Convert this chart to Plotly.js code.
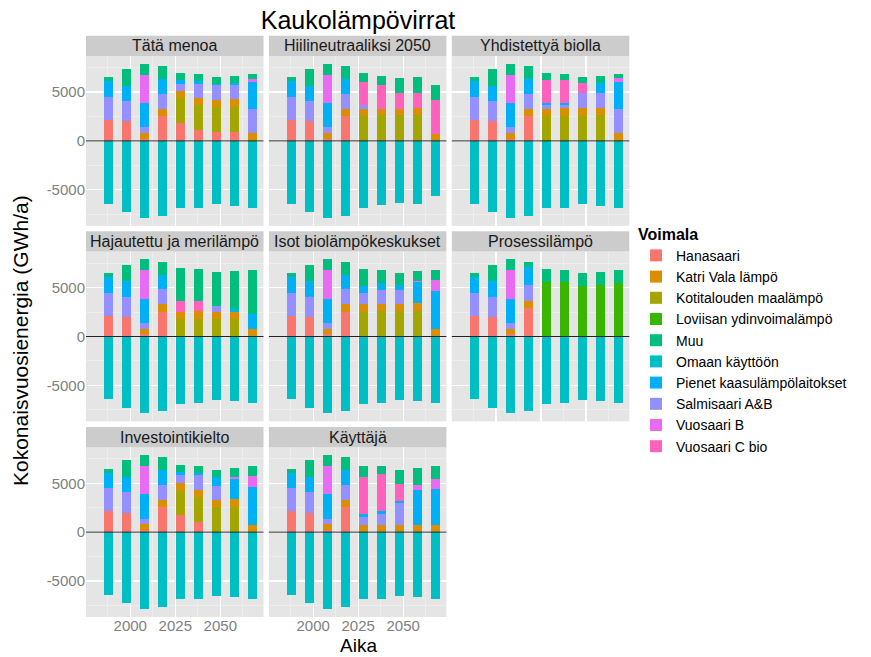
<!DOCTYPE html>
<html><head><meta charset="utf-8">
<script src="https://cdn.plot.ly/plotly-3.0.1.min.js"></script>
<style>html,body{margin:0;padding:0;background:#fff}#chart{width:871px;height:657px}</style>
</head><body><div id="chart"></div>
<script>
// ---- DATA ----
const years = [1988, 1998, 2008, 2018, 2028, 2038, 2048, 2058, 2068];
const scenarios = ["Tätä menoa", "Hiilineutraaliksi 2050", "Yhdistettyä biolla",
  "Hajautettu ja merilämpö", "Isot biolämpökeskukset", "Prosessilämpö",
  "Investointikielto", "Käyttäjä"];
const xTickVals = [2000, 2025, 2050];
const xTickText = ["2000", "2025", "2050"];
const yTickVals = [-5000, 0, 5000];
const yTickText = ["-5000", "0", "5000"];

// each series: one row of 9 yearly values per scenario (GWh/a)
const hanasaari = [
  [2130, 1994, 237, 2535, 1791, 1082, 879, 913, 0],
  [2130, 1994, 237, 2535, 0, 0, 0, 0, 0],
  [2130, 1994, 237, 2535, 0, 0, 0, 0, 0],
  [2130, 1994, 237, 2535, 0, 0, 0, 0, 0],
  [2130, 1994, 237, 2535, 0, 0, 0, 0, 0],
  [2130, 1994, 237, 2881, 0, 0, 0, 0, 0],
  [2130, 1994, 237, 2535, 1709, 1005, 0, 0, 0],
  [2130, 1994, 237, 2535, 0, 0, 0, 0, 0]
];
const kotitalous = [
  [0, 0, 0, 0, 2569, 2568, 2602, 2602, 0],
  [0, 0, 0, 0, 2535, 2603, 2603, 2636, 0],
  [0, 0, 0, 0, 2535, 2569, 2569, 2603, 0],
  [0, 0, 0, 0, 1776, 1776, 1776, 1776, 0],
  [0, 0, 0, 0, 2546, 2580, 2580, 2613, 0],
  [0, 0, 0, 0, 0, 0, 0, 0, 0],
  [0, 0, 0, 0, 2546, 2546, 2546, 2546, 0],
  [0, 0, 0, 0, 0, 0, 0, 0, 0]
];
const katriVala = [
  [0, 0, 574, 777, 744, 744, 744, 778, 777],
  [0, 0, 574, 777, 777, 709, 709, 778, 744],
  [0, 0, 574, 777, 777, 777, 777, 777, 777],
  [0, 0, 574, 777, 770, 804, 737, 770, 804],
  [0, 0, 574, 777, 737, 770, 770, 771, 737],
  [0, 0, 574, 737, 0, 0, 0, 0, 0],
  [0, 0, 574, 777, 770, 770, 771, 804, 737],
  [0, 0, 574, 777, 737, 737, 737, 737, 737]
];
const loviisa = [
  [0, 0, 0, 0, 0, 0, 0, 0, 0],
  [0, 0, 0, 0, 0, 0, 0, 0, 0],
  [0, 0, 0, 0, 0, 0, 0, 0, 0],
  [0, 0, 0, 0, 0, 0, 0, 0, 0],
  [0, 0, 0, 0, 0, 0, 0, 0, 0],
  [0, 0, 0, 0, 5561, 5561, 5193, 5293, 5427],
  [0, 0, 0, 0, 0, 0, 0, 0, 0],
  [0, 0, 0, 0, 0, 0, 0, 0, 0]
];
const salmisaari = [
  [2365, 2096, 575, 1521, 743, 1453, 1453, 1453, 2468],
  [2365, 2096, 575, 1521, 338, 0, 0, 0, 0],
  [2365, 2096, 575, 1521, 338, 304, 1521, 1521, 2468],
  [2365, 2096, 575, 1521, 0, 0, 603, 0, 0],
  [2365, 2096, 575, 1521, 1206, 1441, 1407, 0, 0],
  [2365, 2096, 575, 1675, 0, 0, 0, 0, 0],
  [2365, 2096, 575, 1521, 771, 1474, 1373, 0, 0],
  [2365, 2096, 575, 1521, 804, 1139, 2245, 0, 0]
];
const pienet = [
  [1590, 1555, 2467, 1488, 372, 305, 169, 203, 2738],
  [1590, 1555, 2467, 1488, 0, 0, 0, 0, 0],
  [1590, 1555, 2467, 1488, 203, 203, 0, 1014, 2738],
  [1590, 1555, 2467, 1488, 0, 0, 0, 268, 1474],
  [1590, 1555, 2467, 1488, 704, 636, 503, 2177, 3953],
  [1590, 1555, 2467, 1776, 0, 0, 0, 0, 0],
  [1590, 1555, 2467, 1488, 335, 268, 938, 2111, 3886],
  [1590, 1555, 2467, 1488, 335, 335, 201, 3585, 3685]
];
const vuosaariB = [
  [0, 0, 2941, 0, 0, 0, 0, 0, 371],
  [0, 0, 2941, 0, 0, 0, 0, 0, 0],
  [0, 0, 2941, 0, 0, 0, 0, 0, 439],
  [0, 0, 2941, 0, 0, 0, 0, 0, 0],
  [0, 0, 2941, 0, 0, 0, 0, 70, 1072],
  [0, 0, 2941, 0, 0, 0, 0, 0, 0],
  [0, 0, 2941, 0, 0, 0, 0, 134, 1106],
  [0, 0, 2941, 0, 0, 0, 0, 536, 1039]
];
const vuosaariC = [
  [0, 0, 0, 0, 0, 0, 0, 0, 0],
  [0, 0, 0, 0, 2333, 2400, 1555, 1521, 3413],
  [0, 0, 0, 0, 2400, 2332, 1014, 0, 0],
  [0, 0, 0, 0, 1039, 1038, 0, 0, 0],
  [0, 0, 0, 0, 0, 0, 0, 0, 0],
  [0, 0, 0, 0, 0, 0, 0, 0, 0],
  [0, 0, 0, 0, 0, 0, 0, 0, 0],
  [0, 0, 0, 0, 3719, 3752, 1775, 0, 0]
];
const muu = [
  [405, 1690, 1115, 1352, 710, 709, 676, 710, 474],
  [405, 1690, 1115, 1352, 946, 913, 1521, 1555, 1555],
  [405, 1690, 1115, 1352, 710, 710, 642, 744, 406],
  [405, 1690, 1115, 1352, 3383, 3283, 3450, 3886, 4556],
  [405, 1690, 1115, 1352, 1675, 1407, 1239, 1072, 1039],
  [405, 1690, 1115, 536, 1340, 1273, 1306, 1340, 1374],
  [405, 1690, 1115, 1352, 737, 703, 771, 971, 1005],
  [405, 1690, 1115, 1352, 1206, 838, 1441, 1675, 1273]
];
const omaan = [
  [-6420, -7300, -7842, -7639, -6895, -6828, -6490, -6625, -6828],
  [-6420, -7300, -7842, -7639, -6895, -6591, -6354, -6490, -5645],
  [-6420, -7300, -7842, -7639, -6895, -6828, -6490, -6625, -6828],
  [-6420, -7300, -7842, -7639, -6895, -6828, -6490, -6625, -6828],
  [-6420, -7300, -7842, -7639, -6895, -6828, -6490, -6625, -6828],
  [-6420, -7300, -7842, -7639, -6895, -6828, -6490, -6625, -6828],
  [-6420, -7300, -7842, -7639, -6895, -6828, -6490, -6625, -6828],
  [-6420, -7300, -7842, -7639, -6895, -6828, -6490, -6625, -6828]
];

// stacking order bottom-up; legend rank = alphabetical order
const series = [
  {name: "Hanasaari", vals: hanasaari, color: "#F8766D", rank: 1},
  {name: "Kotitalouden maalämpö", vals: kotitalous, color: "#A3A500", rank: 3},
  {name: "Katri Vala lämpö", vals: katriVala, color: "#D89000", rank: 2},
  {name: "Loviisan ydinvoimalämpö", vals: loviisa, color: "#39B600", rank: 4},
  {name: "Salmisaari A&B", vals: salmisaari, color: "#9590FF", rank: 8},
  {name: "Pienet kaasulämpölaitokset", vals: pienet, color: "#00B0F6", rank: 7},
  {name: "Vuosaari B", vals: vuosaariB, color: "#E76BF3", rank: 9},
  {name: "Vuosaari C bio", vals: vuosaariC, color: "#FF62BC", rank: 10},
  {name: "Muu", vals: muu, color: "#00BF7D", rank: 5},
  {name: "Omaan käyttöön", vals: omaan, color: "#00BFC4", rank: 6}
];

// ---- LAYOUT GEOMETRY (pixels) ----
const W = 871, H = 657;
const colLeft = [86, 268.9, 451.8];
const colW = 177.5;
const rowTop = [35.7, 231.3, 426.9];
const stripH = 20.3;
const panelH = 169.8;
const FONT = "Liberation Sans, Arial, sans-serif";

const traces = [];
const layout = {
  width: W, height: H,
  margin: {l: 0, r: 0, t: 0, b: 0},
  paper_bgcolor: "#FFFFFF",
  plot_bgcolor: "#E5E5E5",
  barmode: "relative",
  bargap: 0,
  font: {family: FONT, size: 15, color: "#1A1A1A"},
  showlegend: true,
  title: {text: "Kaukolämpövirrat", x: 358 / W, xanchor: "center", y: 1 - 20 / H, yanchor: "middle",
          font: {size: 25, color: "#000000", family: FONT}},
  legend: {
    x: 636 / W, xanchor: "left", y: 1 - 219 / H, yanchor: "top",
    bgcolor: "rgba(0,0,0,0)", borderwidth: 0,
    font: {size: 14, color: "#000000", family: FONT},
    title: {text: "<b>Voimala</b>", font: {size: 16, color: "#000000", family: FONT}},
    tracegroupgap: 0, traceorder: "normal"
  },
  shapes: [], annotations: []
};

scenarios.forEach((scen, i) => {
  const r = Math.floor(i / 3), c = i % 3;
  const k = i === 0 ? "" : String(i + 1);
  const x0 = colLeft[c], x1 = colLeft[c] + colW;
  const pTop = rowTop[r] + stripH, pBot = pTop + panelH;
  const isBottom = (i === 6 || i === 7);
  const isLeft = (c === 0);
  layout["xaxis" + k] = {
    domain: [x0 / W, x1 / W], anchor: "y" + k,
    range: [1975.4, 2074], showline: false, zeroline: false,
    tickvals: xTickVals, ticktext: xTickText, showticklabels: isBottom,
    ticks: "", ticklabelstandoff: -2, gridcolor: "#FFFFFF", gridwidth: 1.2,
    tickfont: {size: 15, color: "#7F7F7F", family: FONT},
    minor: {tickvals: [1987.5, 2012.5, 2037.5, 2062.5], showgrid: true, gridcolor: "#F2F2F2", gridwidth: 0.6},
    fixedrange: true
  };
  layout["yaxis" + k] = {
    domain: [1 - pBot / H, 1 - pTop / H], anchor: "x" + k,
    range: [-8690, 8690], showline: false, zeroline: false,
    tickvals: yTickVals, ticktext: yTickText, showticklabels: isLeft,
    ticks: "", gridcolor: "#FFFFFF", gridwidth: 1.2,
    tickfont: {size: 15, color: "#7F7F7F", family: FONT},
    minor: {tickvals: [-7500, -2500, 2500, 7500], showgrid: true, gridcolor: "#F2F2F2", gridwidth: 0.6},
    fixedrange: true
  };
  // strip
  layout.shapes.push({type: "rect", xref: "paper", yref: "paper",
    x0: x0 / W, x1: x1 / W, y0: 1 - pTop / H, y1: 1 - rowTop[r] / H,
    fillcolor: "#CCCCCC", line: {width: 0}, layer: "below"});
  layout.annotations.push({text: scen, xref: "paper", yref: "paper",
    x: (x0 + x1) / 2 / W, y: 1 - (rowTop[r] + stripH / 2) / H, xanchor: "center", yanchor: "middle",
    showarrow: false, font: {size: 16, color: "#1A1A1A", family: FONT}});
  // zero line
  layout.shapes.push({type: "line", xref: "x" + k + " domain", yref: "y" + k,
    x0: 0, x1: 1, y0: 0, y1: 0, line: {color: "#222222", width: 1}, layer: "above"});

  series.forEach(s => {
    traces.push({
      type: "bar", x: years, y: s.vals[i], width: 5.2,
      name: s.name, legendgroup: s.name, legendrank: s.rank,
      showlegend: i === 0,
      marker: {color: s.color, line: {width: 0}},
      xaxis: "x" + k, yaxis: "y" + k,
      hovertemplate: s.name + ": %{y}<extra></extra>"
    });
  });
});

layout.annotations.push({text: "Kokonaisvuosienergia (GWh/a)", xref: "paper", yref: "paper",
  x: 20 / W, y: 1 - 341 / H, xanchor: "center", yanchor: "middle", textangle: -90,
  showarrow: false, font: {size: 21, color: "#000000", family: FONT}});
layout.annotations.push({text: "Aika", xref: "paper", yref: "paper",
  x: 358 / W, y: 0, xanchor: "center", yanchor: "bottom", borderpad: 0,
  showarrow: false, font: {size: 19, color: "#000000", family: FONT}});

Plotly.newPlot("chart", traces, layout, {displayModeBar: false, staticPlot: true});
</script>
</body></html>
